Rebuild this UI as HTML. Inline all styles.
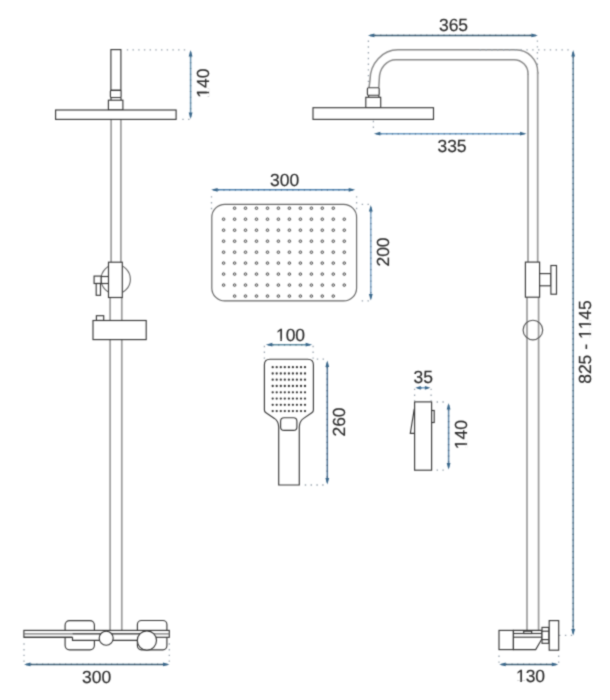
<!DOCTYPE html>
<html><head><meta charset="utf-8"><title>Shower set dimensions</title>
<style>
html,body{margin:0;padding:0;background:#fff;width:610px;height:700px;overflow:hidden}
svg{display:block}
text{font-family:"Liberation Sans",sans-serif;font-size:17.5px;fill:#2a2a2a;font-kerning:none;font-feature-settings:"kern" 0}
</style></head><body>
<svg width="610" height="700" viewBox="0 0 610 700">
<defs><filter id="soft" x="0" y="0" width="610" height="700" filterUnits="userSpaceOnUse" color-interpolation-filters="sRGB"><feConvolveMatrix order="3" kernelMatrix="1 3 1 3 12 3 1 3 1" divisor="28" edgeMode="duplicate"/></filter></defs>
<g filter="url(#soft)">
<rect x="0" y="0" width="610" height="700" fill="#fff"/>
<line x1="126.80" y1="49.80" x2="188" y2="49.8" stroke="#98a2ac" stroke-width="1.3" stroke-dasharray="1.4 4.300000000000001"/>
<line x1="182.30" y1="119.30" x2="190" y2="119.3" stroke="#98a2ac" stroke-width="1.3" stroke-dasharray="1.4 4.4"/>
<line x1="190.6" y1="51.9" x2="190.6" y2="117.1" stroke="#6a95b2" stroke-width="1.5" />
<line x1="190.6" y1="56.4" x2="190.6" y2="112.6" stroke="#54778e" stroke-width="1.35" stroke-dasharray="1.2 4.55"/>
<polygon points="190.6,49.9 188.7,56.4 192.5,56.4" fill="#38668a"/>
<polygon points="190.6,119.1 188.7,112.6 192.5,112.6" fill="#38668a"/>
<g transform="translate(208.6,83.1) rotate(-90)"><text x="0" y="0" text-anchor="middle" text-rendering="geometricPrecision" fill="#2a2a2a" stroke="#2a2a2a" stroke-width="0.16">140</text><rect x="-13.57" y="-1.71" width="3.38" height="2.41" fill="#fff"/><rect x="-8.65" y="-1.71" width="3.24" height="2.41" fill="#fff"/></g>
<line x1="111.1" y1="119" x2="111.1" y2="263" stroke="#9c9c9c" stroke-width="1.7" />
<line x1="120.9" y1="119" x2="120.9" y2="263" stroke="#9c9c9c" stroke-width="1.7" />
<line x1="110.1" y1="297" x2="110.1" y2="631" stroke="#9c9c9c" stroke-width="1.7" />
<line x1="121.8" y1="297" x2="121.8" y2="631" stroke="#9c9c9c" stroke-width="1.7" />
<rect x="110.9" y="49.6" width="10.0" height="40.7" rx="0" fill="#fff" stroke="#383838" stroke-width="1.15"/>
<rect x="110.4" y="90.3" width="10.7" height="7.2" rx="1" fill="#fff" stroke="#383838" stroke-width="1.15"/>
<line x1="111" y1="97.5" x2="111" y2="100.2" stroke="#383838" stroke-width="1.15" />
<line x1="121" y1="97.5" x2="121" y2="100.2" stroke="#383838" stroke-width="1.15" />
<rect x="108.4" y="100.2" width="14.5" height="9.8" rx="0" fill="#fff" stroke="#383838" stroke-width="1.15"/>
<rect x="55.6" y="110" width="120.5" height="9.4" rx="0" fill="#fff" stroke="#383838" stroke-width="1.15"/>
<circle cx="115.7" cy="279.2" r="14.7" fill="#fff" stroke="#6a6a6a" stroke-width="1.15"/>
<line x1="101.1" y1="276.5" x2="108.5" y2="276.5" stroke="#383838" stroke-width="1.15" />
<line x1="101.1" y1="283.5" x2="108.5" y2="283.5" stroke="#383838" stroke-width="1.15" />
<rect x="94.1" y="276.1" width="7.0" height="7.4" rx="0" fill="#fff" stroke="#383838" stroke-width="1.15"/>
<rect x="96.2" y="283.5" width="4.3" height="11.8" rx="0" fill="#fff" stroke="#383838" stroke-width="1.15"/>
<rect x="108.5" y="262.2" width="13.8" height="35.3" rx="0" fill="#fff" stroke="#383838" stroke-width="1.15"/>
<rect x="96.4" y="315.7" width="7.3" height="4.8" rx="0" fill="#fff" stroke="#383838" stroke-width="1.15"/>
<rect x="93" y="320.5" width="53.2" height="19.1" rx="0" fill="#fff" stroke="#383838" stroke-width="1.15"/>
<rect x="65.1" y="620.6" width="29.3" height="29.2" rx="4.5" fill="#fff" stroke="#383838" stroke-width="1.15"/>
<rect x="137.4" y="620.5" width="29.5" height="29.3" rx="4" fill="#fff" stroke="#383838" stroke-width="1.15"/>
<rect x="23.9" y="630.4" width="145.4" height="6.9" rx="0" fill="#fff" stroke="#383838" stroke-width="1.15"/>
<line x1="23.9" y1="633.8" x2="169.3" y2="633.8" stroke="#777" stroke-width="1.2" />
<path d="M72.5,637.3 V640.4 H140 V633.8 H72.5" fill="#fff" stroke="#383838" stroke-width="1.15"/>
<line x1="23.9" y1="637.3" x2="72.5" y2="637.3" stroke="#383838" stroke-width="1.15" />
<circle cx="106.2" cy="638.2" r="7.0" fill="#fff" stroke="#383838" stroke-width="1.15"/>
<circle cx="146.9" cy="640.5" r="9.6" fill="#fff" stroke="#383838" stroke-width="1.15"/>
<line x1="24.00" y1="643.30" x2="24" y2="662" stroke="#98a2ac" stroke-width="1.3" stroke-dasharray="1.4 4.300000000000001"/>
<line x1="169.30" y1="643.30" x2="169.3" y2="662" stroke="#98a2ac" stroke-width="1.3" stroke-dasharray="1.4 4.300000000000001"/>
<line x1="26" y1="664.4" x2="167.5" y2="664.4" stroke="#3f6179" stroke-width="1.5" />
<line x1="30.5" y1="664.4" x2="163.0" y2="664.4" stroke="#324d60" stroke-width="1.35" stroke-dasharray="1.2 4.55"/>
<polygon points="24,664.4 30.5,662.5 30.5,666.3" fill="#38668a"/>
<polygon points="169.5,664.4 163.0,662.5 163.0,666.3" fill="#38668a"/>
<g transform="translate(96.6,682.7)"><text x="0" y="0" text-anchor="middle" text-rendering="geometricPrecision" fill="#2a2a2a" stroke="#2a2a2a" stroke-width="0.16">300</text></g>
<line x1="211.50" y1="196.20" x2="211.5" y2="210" stroke="#98a2ac" stroke-width="1.3" stroke-dasharray="1.4 4.4"/>
<line x1="356.60" y1="196.20" x2="356.6" y2="210" stroke="#98a2ac" stroke-width="1.3" stroke-dasharray="1.4 4.4"/>
<line x1="213.1" y1="189.8" x2="353.2" y2="189.8" stroke="#4f82b0" stroke-width="1.5" />
<line x1="217.6" y1="189.8" x2="348.7" y2="189.8" stroke="#3f688c" stroke-width="1.35" stroke-dasharray="1.2 4.55"/>
<polygon points="211.1,189.8 217.6,187.9 217.6,191.70000000000002" fill="#38668a"/>
<polygon points="355.2,189.8 348.7,187.9 348.7,191.70000000000002" fill="#38668a"/>
<g transform="translate(284.6,185.5)"><text x="0" y="0" text-anchor="middle" text-rendering="geometricPrecision" fill="#2a2a2a" stroke="#2a2a2a" stroke-width="0.16">300</text></g>
<rect x="211.8" y="204.4" width="144.8" height="96.5" rx="13" fill="#fff" stroke="#666" stroke-width="1.15"/>
<line x1="361.70" y1="204.30" x2="369" y2="204.3" stroke="#98a2ac" stroke-width="1.3" stroke-dasharray="1.4 4.4"/>
<line x1="361.70" y1="300.90" x2="369" y2="300.9" stroke="#98a2ac" stroke-width="1.3" stroke-dasharray="1.4 4.4"/>
<line x1="370.8" y1="207" x2="370.8" y2="298.5" stroke="#7ea4c6" stroke-width="1.5" />
<line x1="370.8" y1="211.5" x2="370.8" y2="294.0" stroke="#64839e" stroke-width="1.35" stroke-dasharray="1.2 4.55"/>
<polygon points="370.8,205 368.90000000000003,211.5 372.7,211.5" fill="#38668a"/>
<polygon points="370.8,300.5 368.90000000000003,294.0 372.7,294.0" fill="#38668a"/>
<g transform="translate(388.9,252) rotate(-90)"><text x="0" y="0" text-anchor="middle" text-rendering="geometricPrecision" fill="#2a2a2a" stroke="#2a2a2a" stroke-width="0.16">200</text></g>
<circle cx="234.6" cy="208.2" r="1.3" fill="#ddd" stroke="#3a3a3a" stroke-width="0.85"/>
<circle cx="245.5" cy="208.2" r="1.3" fill="#ddd" stroke="#3a3a3a" stroke-width="0.85"/>
<circle cx="256.5" cy="208.2" r="1.3" fill="#ddd" stroke="#3a3a3a" stroke-width="0.85"/>
<circle cx="267.5" cy="208.2" r="1.3" fill="#ddd" stroke="#3a3a3a" stroke-width="0.85"/>
<circle cx="278.4" cy="208.2" r="1.3" fill="#ddd" stroke="#3a3a3a" stroke-width="0.85"/>
<circle cx="289.4" cy="208.2" r="1.3" fill="#ddd" stroke="#3a3a3a" stroke-width="0.85"/>
<circle cx="300.4" cy="208.2" r="1.3" fill="#ddd" stroke="#3a3a3a" stroke-width="0.85"/>
<circle cx="311.4" cy="208.2" r="1.3" fill="#ddd" stroke="#3a3a3a" stroke-width="0.85"/>
<circle cx="322.3" cy="208.2" r="1.3" fill="#ddd" stroke="#3a3a3a" stroke-width="0.85"/>
<circle cx="333.3" cy="208.2" r="1.3" fill="#ddd" stroke="#3a3a3a" stroke-width="0.85"/>
<circle cx="223.6" cy="219.2" r="1.3" fill="#ddd" stroke="#3a3a3a" stroke-width="0.85"/>
<circle cx="234.6" cy="219.2" r="1.3" fill="#ddd" stroke="#3a3a3a" stroke-width="0.85"/>
<circle cx="245.5" cy="219.2" r="1.3" fill="#ddd" stroke="#3a3a3a" stroke-width="0.85"/>
<circle cx="256.5" cy="219.2" r="1.3" fill="#ddd" stroke="#3a3a3a" stroke-width="0.85"/>
<circle cx="267.5" cy="219.2" r="1.3" fill="#ddd" stroke="#3a3a3a" stroke-width="0.85"/>
<circle cx="278.4" cy="219.2" r="1.3" fill="#ddd" stroke="#3a3a3a" stroke-width="0.85"/>
<circle cx="289.4" cy="219.2" r="1.3" fill="#ddd" stroke="#3a3a3a" stroke-width="0.85"/>
<circle cx="300.4" cy="219.2" r="1.3" fill="#ddd" stroke="#3a3a3a" stroke-width="0.85"/>
<circle cx="311.4" cy="219.2" r="1.3" fill="#ddd" stroke="#3a3a3a" stroke-width="0.85"/>
<circle cx="322.3" cy="219.2" r="1.3" fill="#ddd" stroke="#3a3a3a" stroke-width="0.85"/>
<circle cx="333.3" cy="219.2" r="1.3" fill="#ddd" stroke="#3a3a3a" stroke-width="0.85"/>
<circle cx="344.3" cy="219.2" r="1.3" fill="#ddd" stroke="#3a3a3a" stroke-width="0.85"/>
<circle cx="223.6" cy="230.2" r="1.3" fill="#ddd" stroke="#3a3a3a" stroke-width="0.85"/>
<circle cx="234.6" cy="230.2" r="1.3" fill="#ddd" stroke="#3a3a3a" stroke-width="0.85"/>
<circle cx="245.5" cy="230.2" r="1.3" fill="#ddd" stroke="#3a3a3a" stroke-width="0.85"/>
<circle cx="256.5" cy="230.2" r="1.3" fill="#ddd" stroke="#3a3a3a" stroke-width="0.85"/>
<circle cx="267.5" cy="230.2" r="1.3" fill="#ddd" stroke="#3a3a3a" stroke-width="0.85"/>
<circle cx="278.4" cy="230.2" r="1.3" fill="#ddd" stroke="#3a3a3a" stroke-width="0.85"/>
<circle cx="289.4" cy="230.2" r="1.3" fill="#ddd" stroke="#3a3a3a" stroke-width="0.85"/>
<circle cx="300.4" cy="230.2" r="1.3" fill="#ddd" stroke="#3a3a3a" stroke-width="0.85"/>
<circle cx="311.4" cy="230.2" r="1.3" fill="#ddd" stroke="#3a3a3a" stroke-width="0.85"/>
<circle cx="322.3" cy="230.2" r="1.3" fill="#ddd" stroke="#3a3a3a" stroke-width="0.85"/>
<circle cx="333.3" cy="230.2" r="1.3" fill="#ddd" stroke="#3a3a3a" stroke-width="0.85"/>
<circle cx="344.3" cy="230.2" r="1.3" fill="#ddd" stroke="#3a3a3a" stroke-width="0.85"/>
<circle cx="223.6" cy="241.2" r="1.3" fill="#ddd" stroke="#3a3a3a" stroke-width="0.85"/>
<circle cx="234.6" cy="241.2" r="1.3" fill="#ddd" stroke="#3a3a3a" stroke-width="0.85"/>
<circle cx="245.5" cy="241.2" r="1.3" fill="#ddd" stroke="#3a3a3a" stroke-width="0.85"/>
<circle cx="256.5" cy="241.2" r="1.3" fill="#ddd" stroke="#3a3a3a" stroke-width="0.85"/>
<circle cx="267.5" cy="241.2" r="1.3" fill="#ddd" stroke="#3a3a3a" stroke-width="0.85"/>
<circle cx="278.4" cy="241.2" r="1.3" fill="#ddd" stroke="#3a3a3a" stroke-width="0.85"/>
<circle cx="289.4" cy="241.2" r="1.3" fill="#ddd" stroke="#3a3a3a" stroke-width="0.85"/>
<circle cx="300.4" cy="241.2" r="1.3" fill="#ddd" stroke="#3a3a3a" stroke-width="0.85"/>
<circle cx="311.4" cy="241.2" r="1.3" fill="#ddd" stroke="#3a3a3a" stroke-width="0.85"/>
<circle cx="322.3" cy="241.2" r="1.3" fill="#ddd" stroke="#3a3a3a" stroke-width="0.85"/>
<circle cx="333.3" cy="241.2" r="1.3" fill="#ddd" stroke="#3a3a3a" stroke-width="0.85"/>
<circle cx="344.3" cy="241.2" r="1.3" fill="#ddd" stroke="#3a3a3a" stroke-width="0.85"/>
<circle cx="223.6" cy="252.2" r="1.3" fill="#ddd" stroke="#3a3a3a" stroke-width="0.85"/>
<circle cx="234.6" cy="252.2" r="1.3" fill="#ddd" stroke="#3a3a3a" stroke-width="0.85"/>
<circle cx="245.5" cy="252.2" r="1.3" fill="#ddd" stroke="#3a3a3a" stroke-width="0.85"/>
<circle cx="256.5" cy="252.2" r="1.3" fill="#ddd" stroke="#3a3a3a" stroke-width="0.85"/>
<circle cx="267.5" cy="252.2" r="1.3" fill="#ddd" stroke="#3a3a3a" stroke-width="0.85"/>
<circle cx="278.4" cy="252.2" r="1.3" fill="#ddd" stroke="#3a3a3a" stroke-width="0.85"/>
<circle cx="289.4" cy="252.2" r="1.3" fill="#ddd" stroke="#3a3a3a" stroke-width="0.85"/>
<circle cx="300.4" cy="252.2" r="1.3" fill="#ddd" stroke="#3a3a3a" stroke-width="0.85"/>
<circle cx="311.4" cy="252.2" r="1.3" fill="#ddd" stroke="#3a3a3a" stroke-width="0.85"/>
<circle cx="322.3" cy="252.2" r="1.3" fill="#ddd" stroke="#3a3a3a" stroke-width="0.85"/>
<circle cx="333.3" cy="252.2" r="1.3" fill="#ddd" stroke="#3a3a3a" stroke-width="0.85"/>
<circle cx="344.3" cy="252.2" r="1.3" fill="#ddd" stroke="#3a3a3a" stroke-width="0.85"/>
<circle cx="223.6" cy="263.1" r="1.3" fill="#ddd" stroke="#3a3a3a" stroke-width="0.85"/>
<circle cx="234.6" cy="263.1" r="1.3" fill="#ddd" stroke="#3a3a3a" stroke-width="0.85"/>
<circle cx="245.5" cy="263.1" r="1.3" fill="#ddd" stroke="#3a3a3a" stroke-width="0.85"/>
<circle cx="256.5" cy="263.1" r="1.3" fill="#ddd" stroke="#3a3a3a" stroke-width="0.85"/>
<circle cx="267.5" cy="263.1" r="1.3" fill="#ddd" stroke="#3a3a3a" stroke-width="0.85"/>
<circle cx="278.4" cy="263.1" r="1.3" fill="#ddd" stroke="#3a3a3a" stroke-width="0.85"/>
<circle cx="289.4" cy="263.1" r="1.3" fill="#ddd" stroke="#3a3a3a" stroke-width="0.85"/>
<circle cx="300.4" cy="263.1" r="1.3" fill="#ddd" stroke="#3a3a3a" stroke-width="0.85"/>
<circle cx="311.4" cy="263.1" r="1.3" fill="#ddd" stroke="#3a3a3a" stroke-width="0.85"/>
<circle cx="322.3" cy="263.1" r="1.3" fill="#ddd" stroke="#3a3a3a" stroke-width="0.85"/>
<circle cx="333.3" cy="263.1" r="1.3" fill="#ddd" stroke="#3a3a3a" stroke-width="0.85"/>
<circle cx="344.3" cy="263.1" r="1.3" fill="#ddd" stroke="#3a3a3a" stroke-width="0.85"/>
<circle cx="223.6" cy="274.1" r="1.3" fill="#ddd" stroke="#3a3a3a" stroke-width="0.85"/>
<circle cx="234.6" cy="274.1" r="1.3" fill="#ddd" stroke="#3a3a3a" stroke-width="0.85"/>
<circle cx="245.5" cy="274.1" r="1.3" fill="#ddd" stroke="#3a3a3a" stroke-width="0.85"/>
<circle cx="256.5" cy="274.1" r="1.3" fill="#ddd" stroke="#3a3a3a" stroke-width="0.85"/>
<circle cx="267.5" cy="274.1" r="1.3" fill="#ddd" stroke="#3a3a3a" stroke-width="0.85"/>
<circle cx="278.4" cy="274.1" r="1.3" fill="#ddd" stroke="#3a3a3a" stroke-width="0.85"/>
<circle cx="289.4" cy="274.1" r="1.3" fill="#ddd" stroke="#3a3a3a" stroke-width="0.85"/>
<circle cx="300.4" cy="274.1" r="1.3" fill="#ddd" stroke="#3a3a3a" stroke-width="0.85"/>
<circle cx="311.4" cy="274.1" r="1.3" fill="#ddd" stroke="#3a3a3a" stroke-width="0.85"/>
<circle cx="322.3" cy="274.1" r="1.3" fill="#ddd" stroke="#3a3a3a" stroke-width="0.85"/>
<circle cx="333.3" cy="274.1" r="1.3" fill="#ddd" stroke="#3a3a3a" stroke-width="0.85"/>
<circle cx="344.3" cy="274.1" r="1.3" fill="#ddd" stroke="#3a3a3a" stroke-width="0.85"/>
<circle cx="223.6" cy="285.1" r="1.3" fill="#ddd" stroke="#3a3a3a" stroke-width="0.85"/>
<circle cx="234.6" cy="285.1" r="1.3" fill="#ddd" stroke="#3a3a3a" stroke-width="0.85"/>
<circle cx="245.5" cy="285.1" r="1.3" fill="#ddd" stroke="#3a3a3a" stroke-width="0.85"/>
<circle cx="256.5" cy="285.1" r="1.3" fill="#ddd" stroke="#3a3a3a" stroke-width="0.85"/>
<circle cx="267.5" cy="285.1" r="1.3" fill="#ddd" stroke="#3a3a3a" stroke-width="0.85"/>
<circle cx="278.4" cy="285.1" r="1.3" fill="#ddd" stroke="#3a3a3a" stroke-width="0.85"/>
<circle cx="289.4" cy="285.1" r="1.3" fill="#ddd" stroke="#3a3a3a" stroke-width="0.85"/>
<circle cx="300.4" cy="285.1" r="1.3" fill="#ddd" stroke="#3a3a3a" stroke-width="0.85"/>
<circle cx="311.4" cy="285.1" r="1.3" fill="#ddd" stroke="#3a3a3a" stroke-width="0.85"/>
<circle cx="322.3" cy="285.1" r="1.3" fill="#ddd" stroke="#3a3a3a" stroke-width="0.85"/>
<circle cx="333.3" cy="285.1" r="1.3" fill="#ddd" stroke="#3a3a3a" stroke-width="0.85"/>
<circle cx="344.3" cy="285.1" r="1.3" fill="#ddd" stroke="#3a3a3a" stroke-width="0.85"/>
<circle cx="234.6" cy="296.1" r="1.3" fill="#ddd" stroke="#3a3a3a" stroke-width="0.85"/>
<circle cx="245.5" cy="296.1" r="1.3" fill="#ddd" stroke="#3a3a3a" stroke-width="0.85"/>
<circle cx="256.5" cy="296.1" r="1.3" fill="#ddd" stroke="#3a3a3a" stroke-width="0.85"/>
<circle cx="267.5" cy="296.1" r="1.3" fill="#ddd" stroke="#3a3a3a" stroke-width="0.85"/>
<circle cx="278.4" cy="296.1" r="1.3" fill="#ddd" stroke="#3a3a3a" stroke-width="0.85"/>
<circle cx="289.4" cy="296.1" r="1.3" fill="#ddd" stroke="#3a3a3a" stroke-width="0.85"/>
<circle cx="300.4" cy="296.1" r="1.3" fill="#ddd" stroke="#3a3a3a" stroke-width="0.85"/>
<circle cx="311.4" cy="296.1" r="1.3" fill="#ddd" stroke="#3a3a3a" stroke-width="0.85"/>
<circle cx="322.3" cy="296.1" r="1.3" fill="#ddd" stroke="#3a3a3a" stroke-width="0.85"/>
<circle cx="333.3" cy="296.1" r="1.3" fill="#ddd" stroke="#3a3a3a" stroke-width="0.85"/>
<line x1="267.9" y1="344.7" x2="310.1" y2="344.7" stroke="#5f8ea4" stroke-width="1.5" />
<line x1="272.4" y1="344.7" x2="305.6" y2="344.7" stroke="#4c7183" stroke-width="1.35" stroke-dasharray="1.2 4.55"/>
<polygon points="265.9,344.7 272.4,342.8 272.4,346.59999999999997" fill="#38668a"/>
<polygon points="312.1,344.7 305.6,342.8 305.6,346.59999999999997" fill="#38668a"/>
<g transform="translate(290.5,340.5)"><text x="0" y="0" text-anchor="middle" text-rendering="geometricPrecision" fill="#2a2a2a" stroke="#2a2a2a" stroke-width="0.16">100</text><rect x="-13.57" y="-1.71" width="3.38" height="2.41" fill="#fff"/><rect x="-8.65" y="-1.71" width="3.24" height="2.41" fill="#fff"/></g>
<line x1="264.40" y1="345.80" x2="264.4" y2="359" stroke="#98a2ac" stroke-width="1.3" stroke-dasharray="1.4 4.4"/>
<line x1="313.10" y1="345.80" x2="313.1" y2="359" stroke="#98a2ac" stroke-width="1.3" stroke-dasharray="1.4 4.4"/>
<path d="M264.4,410 V364.8 Q264.4,359.2 270,359.2 H307.8 Q313.4,359.2 313.4,364.8 V410 Q313.4,411.8 311.8,412.8 L303.6,418.4 Q299.3,421.5 299.3,427 V485 H278.7 V427 Q278.7,421.5 274.4,418.4 L266,412.8 Q264.4,411.8 264.4,410 Z" fill="#fff" stroke="#383838" stroke-width="1.15"/>
<rect x="280.6" y="417.7" width="16.3" height="12.7" rx="3.5" fill="#fff" stroke="#383838" stroke-width="1.15"/>
<circle cx="272.7" cy="367.2" r="1.15" fill="#333"/>
<circle cx="276.7" cy="367.2" r="1.15" fill="#333"/>
<circle cx="280.8" cy="367.2" r="1.15" fill="#333"/>
<circle cx="284.8" cy="367.2" r="1.15" fill="#333"/>
<circle cx="288.9" cy="367.2" r="1.15" fill="#333"/>
<circle cx="292.9" cy="367.2" r="1.15" fill="#333"/>
<circle cx="296.9" cy="367.2" r="1.15" fill="#333"/>
<circle cx="301.0" cy="367.2" r="1.15" fill="#333"/>
<circle cx="305.0" cy="367.2" r="1.15" fill="#333"/>
<circle cx="272.7" cy="373.5" r="1.15" fill="#333"/>
<circle cx="276.7" cy="373.5" r="1.15" fill="#333"/>
<circle cx="280.8" cy="373.5" r="1.15" fill="#333"/>
<circle cx="284.8" cy="373.5" r="1.15" fill="#333"/>
<circle cx="288.9" cy="373.5" r="1.15" fill="#333"/>
<circle cx="292.9" cy="373.5" r="1.15" fill="#333"/>
<circle cx="296.9" cy="373.5" r="1.15" fill="#333"/>
<circle cx="301.0" cy="373.5" r="1.15" fill="#333"/>
<circle cx="305.0" cy="373.5" r="1.15" fill="#333"/>
<circle cx="272.7" cy="379.7" r="1.15" fill="#333"/>
<circle cx="276.7" cy="379.7" r="1.15" fill="#333"/>
<circle cx="280.8" cy="379.7" r="1.15" fill="#333"/>
<circle cx="284.8" cy="379.7" r="1.15" fill="#333"/>
<circle cx="288.9" cy="379.7" r="1.15" fill="#333"/>
<circle cx="292.9" cy="379.7" r="1.15" fill="#333"/>
<circle cx="296.9" cy="379.7" r="1.15" fill="#333"/>
<circle cx="301.0" cy="379.7" r="1.15" fill="#333"/>
<circle cx="305.0" cy="379.7" r="1.15" fill="#333"/>
<circle cx="272.7" cy="386.0" r="1.15" fill="#333"/>
<circle cx="276.7" cy="386.0" r="1.15" fill="#333"/>
<circle cx="280.8" cy="386.0" r="1.15" fill="#333"/>
<circle cx="284.8" cy="386.0" r="1.15" fill="#333"/>
<circle cx="288.9" cy="386.0" r="1.15" fill="#333"/>
<circle cx="292.9" cy="386.0" r="1.15" fill="#333"/>
<circle cx="296.9" cy="386.0" r="1.15" fill="#333"/>
<circle cx="301.0" cy="386.0" r="1.15" fill="#333"/>
<circle cx="305.0" cy="386.0" r="1.15" fill="#333"/>
<circle cx="272.7" cy="392.3" r="1.15" fill="#333"/>
<circle cx="276.7" cy="392.3" r="1.15" fill="#333"/>
<circle cx="280.8" cy="392.3" r="1.15" fill="#333"/>
<circle cx="284.8" cy="392.3" r="1.15" fill="#333"/>
<circle cx="288.9" cy="392.3" r="1.15" fill="#333"/>
<circle cx="292.9" cy="392.3" r="1.15" fill="#333"/>
<circle cx="296.9" cy="392.3" r="1.15" fill="#333"/>
<circle cx="301.0" cy="392.3" r="1.15" fill="#333"/>
<circle cx="305.0" cy="392.3" r="1.15" fill="#333"/>
<circle cx="272.7" cy="398.6" r="1.15" fill="#333"/>
<circle cx="276.7" cy="398.6" r="1.15" fill="#333"/>
<circle cx="280.8" cy="398.6" r="1.15" fill="#333"/>
<circle cx="284.8" cy="398.6" r="1.15" fill="#333"/>
<circle cx="288.9" cy="398.6" r="1.15" fill="#333"/>
<circle cx="292.9" cy="398.6" r="1.15" fill="#333"/>
<circle cx="296.9" cy="398.6" r="1.15" fill="#333"/>
<circle cx="301.0" cy="398.6" r="1.15" fill="#333"/>
<circle cx="305.0" cy="398.6" r="1.15" fill="#333"/>
<circle cx="272.7" cy="404.8" r="1.15" fill="#333"/>
<circle cx="276.7" cy="404.8" r="1.15" fill="#333"/>
<circle cx="280.8" cy="404.8" r="1.15" fill="#333"/>
<circle cx="284.8" cy="404.8" r="1.15" fill="#333"/>
<circle cx="288.9" cy="404.8" r="1.15" fill="#333"/>
<circle cx="292.9" cy="404.8" r="1.15" fill="#333"/>
<circle cx="296.9" cy="404.8" r="1.15" fill="#333"/>
<circle cx="301.0" cy="404.8" r="1.15" fill="#333"/>
<circle cx="305.0" cy="404.8" r="1.15" fill="#333"/>
<circle cx="272.7" cy="411.1" r="1.15" fill="#333"/>
<circle cx="276.7" cy="411.1" r="1.15" fill="#333"/>
<circle cx="280.8" cy="411.1" r="1.15" fill="#333"/>
<circle cx="284.8" cy="411.1" r="1.15" fill="#333"/>
<circle cx="288.9" cy="411.1" r="1.15" fill="#333"/>
<circle cx="292.9" cy="411.1" r="1.15" fill="#333"/>
<circle cx="296.9" cy="411.1" r="1.15" fill="#333"/>
<circle cx="301.0" cy="411.1" r="1.15" fill="#333"/>
<circle cx="305.0" cy="411.1" r="1.15" fill="#333"/>
<line x1="316.80" y1="359.20" x2="326" y2="359.2" stroke="#98a2ac" stroke-width="1.3" stroke-dasharray="1.4 4.4"/>
<line x1="304.80" y1="485.00" x2="326" y2="485" stroke="#98a2ac" stroke-width="1.3" stroke-dasharray="1.4 4.4"/>
<line x1="327.3" y1="362.5" x2="327.3" y2="482.5" stroke="#4f7396" stroke-width="1.5" />
<line x1="327.3" y1="367.0" x2="327.3" y2="478.0" stroke="#3f5c78" stroke-width="1.35" stroke-dasharray="1.2 4.55"/>
<polygon points="327.3,360.5 325.40000000000003,367.0 329.2,367.0" fill="#38668a"/>
<polygon points="327.3,484.5 325.40000000000003,478.0 329.2,478.0" fill="#38668a"/>
<g transform="translate(345,422) rotate(-90)"><text x="0" y="0" text-anchor="middle" text-rendering="geometricPrecision" fill="#2a2a2a" stroke="#2a2a2a" stroke-width="0.16">260</text></g>
<line x1="417.4" y1="387.8" x2="428.3" y2="387.8" stroke="#77a2c6" stroke-width="1.5" />
<line x1="420.79999999999995" y1="387.8" x2="424.90000000000003" y2="387.8" stroke="#557fa3" stroke-width="1.35" stroke-dasharray="1.2 4.55"/>
<polygon points="415.4,387.8 420.79999999999995,385.90000000000003 420.79999999999995,389.7" fill="#38668a"/>
<polygon points="430.3,387.8 424.90000000000003,385.90000000000003 424.90000000000003,389.7" fill="#38668a"/>
<g transform="translate(423.2,383.1)"><text x="0" y="0" text-anchor="middle" text-rendering="geometricPrecision" fill="#2a2a2a" stroke="#2a2a2a" stroke-width="0.16">35</text></g>
<line x1="414.60" y1="388.70" x2="414.6" y2="401" stroke="#98a2ac" stroke-width="1.3" stroke-dasharray="1.4 4.4"/>
<line x1="431.10" y1="388.70" x2="431.1" y2="401" stroke="#98a2ac" stroke-width="1.3" stroke-dasharray="1.4 4.4"/>
<rect x="414.6" y="401.9" width="17.0" height="68.3" rx="0" fill="#fff" stroke="#383838" stroke-width="1.15"/>
<path d="M414.3,408.8 L410.3,433.4 H414.3" fill="none" stroke="#383838" stroke-width="1.15"/>
<rect x="431.6" y="410.5" width="2.6" height="12.0" rx="0" fill="#fff" stroke="#383838" stroke-width="1.15"/>
<line x1="436.60" y1="402.00" x2="447" y2="402" stroke="#98a2ac" stroke-width="1.3" stroke-dasharray="1.4 4.4"/>
<line x1="436.60" y1="470.20" x2="447" y2="470.2" stroke="#98a2ac" stroke-width="1.3" stroke-dasharray="1.4 4.4"/>
<line x1="448.6" y1="405" x2="448.6" y2="467.5" stroke="#5f86a8" stroke-width="1.5" />
<line x1="448.6" y1="409.5" x2="448.6" y2="463.0" stroke="#4c6b86" stroke-width="1.35" stroke-dasharray="1.2 4.55"/>
<polygon points="448.6,403 446.70000000000005,409.5 450.5,409.5" fill="#38668a"/>
<polygon points="448.6,469.5 446.70000000000005,463.0 450.5,463.0" fill="#38668a"/>
<g transform="translate(466.8,434.6) rotate(-90)"><text x="0" y="0" text-anchor="middle" text-rendering="geometricPrecision" fill="#2a2a2a" stroke="#2a2a2a" stroke-width="0.16">140</text><rect x="-13.57" y="-1.71" width="3.38" height="2.41" fill="#fff"/><rect x="-8.65" y="-1.71" width="3.24" height="2.41" fill="#fff"/></g>
<line x1="369.9" y1="35.4" x2="535.9" y2="35.4" stroke="#3f6179" stroke-width="1.5" />
<line x1="374.4" y1="35.4" x2="531.4" y2="35.4" stroke="#324d60" stroke-width="1.35" stroke-dasharray="1.2 4.55"/>
<polygon points="367.9,35.4 374.4,33.5 374.4,37.3" fill="#38668a"/>
<polygon points="537.9,35.4 531.4,33.5 531.4,37.3" fill="#38668a"/>
<g transform="translate(453.5,30.5)"><text x="0" y="0" text-anchor="middle" text-rendering="geometricPrecision" fill="#2a2a2a" stroke="#2a2a2a" stroke-width="0.16">365</text></g>
<line x1="368.40" y1="40.60" x2="368.4" y2="86.5" stroke="#98a2ac" stroke-width="1.3" stroke-dasharray="1.4 4.32"/>
<line x1="537.40" y1="40.40" x2="537.4" y2="66" stroke="#98a2ac" stroke-width="1.3" stroke-dasharray="1.4 4.4"/>
<path d="M369.0,87.7 L370,80 A28,30.2 0 0 1 398,49.8 H515.7 A22,22 0 0 1 537.7,71.8 V74" fill="none" stroke="#8a8a8a" stroke-width="1.5"/>
<path d="M378.8,87.7 L379.3,79 A16.7,19.3 0 0 1 396,59.7 H514 A14,14 0 0 1 528,73.7 V75" fill="none" stroke="#8a8a8a" stroke-width="1.5"/>
<line x1="528.0" y1="74" x2="528.0" y2="263" stroke="#9c9c9c" stroke-width="1.7" />
<line x1="537.7" y1="72" x2="537.7" y2="263" stroke="#9c9c9c" stroke-width="1.7" />
<line x1="527.0" y1="297" x2="527.0" y2="631" stroke="#9c9c9c" stroke-width="1.7" />
<line x1="538.6" y1="297" x2="538.6" y2="631" stroke="#9c9c9c" stroke-width="1.7" />
<rect x="367.4" y="87.7" width="11.8" height="7.6" rx="1" fill="#fff" stroke="#383838" stroke-width="1.15"/>
<line x1="368.6" y1="95.3" x2="368.6" y2="97.3" stroke="#383838" stroke-width="1.15" />
<line x1="378.9" y1="95.3" x2="378.9" y2="97.3" stroke="#383838" stroke-width="1.15" />
<rect x="365.8" y="97.3" width="14.9" height="10.4" rx="0" fill="#fff" stroke="#383838" stroke-width="1.15"/>
<rect x="313" y="107.7" width="120.5" height="11.7" rx="0" fill="#fff" stroke="#383838" stroke-width="1.15"/>
<line x1="373.40" y1="120.80" x2="373.4" y2="131" stroke="#98a2ac" stroke-width="1.3" stroke-dasharray="1.4 4.4"/>
<line x1="375.9" y1="133.7" x2="524.5" y2="133.7" stroke="#6d9cc4" stroke-width="1.5" />
<line x1="380.4" y1="133.7" x2="520.0" y2="133.7" stroke="#577c9c" stroke-width="1.35" stroke-dasharray="1.2 4.55"/>
<polygon points="373.9,133.7 380.4,131.79999999999998 380.4,135.6" fill="#38668a"/>
<polygon points="526.5,133.7 520.0,131.79999999999998 520.0,135.6" fill="#38668a"/>
<g transform="translate(452,152.1)"><text x="0" y="0" text-anchor="middle" text-rendering="geometricPrecision" fill="#2a2a2a" stroke="#2a2a2a" stroke-width="0.16">335</text></g>
<line x1="479.55" y1="49.80" x2="571" y2="49.8" stroke="#98a2ac" stroke-width="1.3" stroke-dasharray="1.4 4.449999999999999"/>
<line x1="559.00" y1="635.30" x2="573" y2="635.3" stroke="#98a2ac" stroke-width="1.3" stroke-dasharray="1.4 4.5"/>
<line x1="573.2" y1="52.0" x2="573.2" y2="633.4" stroke="#5f829c" stroke-width="1.5" />
<line x1="573.2" y1="56.5" x2="573.2" y2="628.9" stroke="#4c687c" stroke-width="1.35" stroke-dasharray="1.2 4.55"/>
<polygon points="573.2,50.0 571.3000000000001,56.5 575.1,56.5" fill="#38668a"/>
<polygon points="573.2,635.4 571.3000000000001,628.9 575.1,628.9" fill="#38668a"/>
<g transform="translate(590.9,342) rotate(-90)"><text x="0" y="0" text-anchor="middle" text-rendering="geometricPrecision" fill="#2a2a2a" stroke="#2a2a2a" stroke-width="0.16">825 - 1145</text><rect x="3.93" y="-1.71" width="3.38" height="2.41" fill="#fff"/><rect x="8.86" y="-1.71" width="3.24" height="2.41" fill="#fff"/><rect x="13.67" y="-1.71" width="3.38" height="2.41" fill="#fff"/><rect x="18.59" y="-1.71" width="3.24" height="2.41" fill="#fff"/></g>
<circle cx="532.9" cy="330" r="9.8" fill="none" stroke="#555" stroke-width="1.15"/>
<rect x="525.4" y="262.1" width="14.2" height="35.1" rx="0" fill="#fff" stroke="#383838" stroke-width="1.15"/>
<rect x="539.6" y="273.6" width="11.3" height="12.2" rx="0" fill="#fff" stroke="#383838" stroke-width="1.15"/>
<rect x="550.9" y="265.5" width="5.6" height="28.7" rx="0" fill="#fff" stroke="#383838" stroke-width="1.15"/>
<rect x="499" y="630.4" width="14.4" height="19.2" rx="0" fill="#fff" stroke="#383838" stroke-width="1.15"/>
<path d="M513.4,630.4 H542 V638.7 L535.7,649.6 H513.4 Z" fill="#fff" stroke="#383838" stroke-width="1.15"/>
<line x1="513.4" y1="633.5" x2="542" y2="633.5" stroke="#383838" stroke-width="1.15" />
<line x1="513.4" y1="637.2" x2="542" y2="637.2" stroke="#383838" stroke-width="1.15" />
<rect x="523.7" y="631.2" width="8.0" height="2.3" rx="0" fill="#fff" stroke="#383838" stroke-width="1.15"/>
<rect x="542" y="627.4" width="6.9" height="15.9" rx="0" fill="#fff" stroke="#383838" stroke-width="1.15"/>
<line x1="542" y1="631.2" x2="548.9" y2="631.2" stroke="#383838" stroke-width="1.15" />
<line x1="542" y1="639.6" x2="548.9" y2="639.6" stroke="#383838" stroke-width="1.15" />
<rect x="549.2" y="620.6" width="9.5" height="29.6" rx="0" fill="#fff" stroke="#383838" stroke-width="1.15"/>
<line x1="499.00" y1="655.60" x2="499" y2="663" stroke="#98a2ac" stroke-width="1.3" stroke-dasharray="1.4 4.4"/>
<line x1="558.70" y1="655.60" x2="558.7" y2="663" stroke="#98a2ac" stroke-width="1.3" stroke-dasharray="1.4 4.4"/>
<line x1="501.2" y1="664.4" x2="556.3" y2="664.4" stroke="#3f6179" stroke-width="1.5" />
<line x1="505.7" y1="664.4" x2="551.8" y2="664.4" stroke="#324d60" stroke-width="1.35" stroke-dasharray="1.2 4.55"/>
<polygon points="499.2,664.4 505.7,662.5 505.7,666.3" fill="#38668a"/>
<polygon points="558.3,664.4 551.8,662.5 551.8,666.3" fill="#38668a"/>
<g transform="translate(530.5,682.1)"><text x="0" y="0" text-anchor="middle" text-rendering="geometricPrecision" fill="#2a2a2a" stroke="#2a2a2a" stroke-width="0.16">130</text><rect x="-13.57" y="-1.71" width="3.38" height="2.41" fill="#fff"/><rect x="-8.65" y="-1.71" width="3.24" height="2.41" fill="#fff"/></g>
</g>
</svg>
</body></html>
